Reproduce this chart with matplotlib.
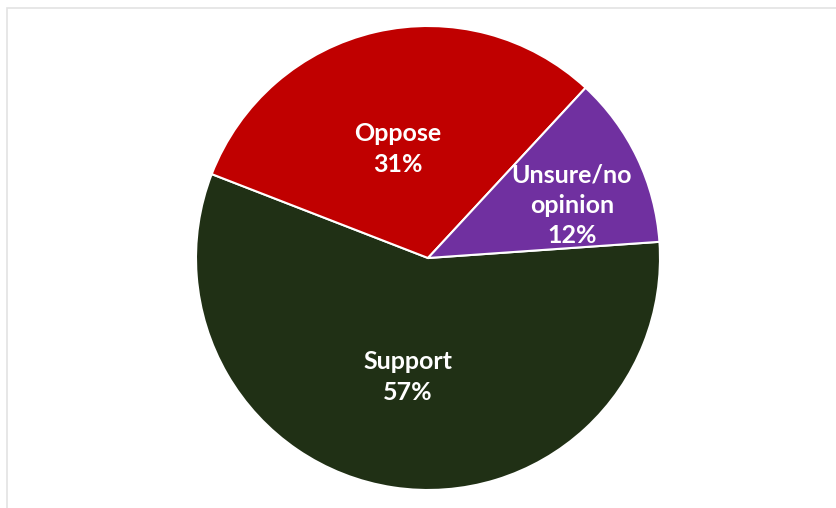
import matplotlib.pyplot as plt
from matplotlib.patches import Rectangle
import numpy as np

# Data
categories = ["Support", "Oppose", "Unsure/no\nopinion"]
shares = [57, 31, 12]
colors = ["#203015", "#C00000", "#7030A0"]

# label placement: radial distance and angle nudge (degrees) from wedge middle
label_dist = [0.52, 0.487, 0.66]
label_nudge = [-1, 2.4, -5.4]

W, H = 836, 508
fig = plt.figure(figsize=(W / 100, H / 100), dpi=100)

# light gray chart frame (partly cropped at right/bottom)
fig.add_artist(Rectangle((7 / W, -0.1), 1.2, (H - 8) / H + 0.1,
                         transform=fig.transFigure, fill=False,
                         edgecolor="#E3E3E3", linewidth=1.2))

cx, cy, r = 428, 258, 232
ax = fig.add_axes([(cx - r) / W, (H - cy - r) / H, 2 * r / W, 2 * r / H])

wedges, _ = ax.pie(shares, colors=colors, startangle=4, counterclock=False,
                   radius=1, wedgeprops=dict(edgecolor="white", linewidth=1.5))
ax.set_xlim(-1, 1)
ax.set_ylim(-1, 1)
ax.set_aspect("equal")
ax.axis("off")

for w, cat, pct, d, nd in zip(wedges, categories, shares, label_dist, label_nudge):
    mid = np.deg2rad((w.theta1 + w.theta2) / 2 + nd)
    ax.text(d * np.cos(mid), d * np.sin(mid), f"{cat}\n{pct}%",
            ha="center", va="center", color="white", fontsize=18,
            fontweight="bold", family="Lato", linespacing=1.4)

fig.savefig("out.png", dpi=100)
